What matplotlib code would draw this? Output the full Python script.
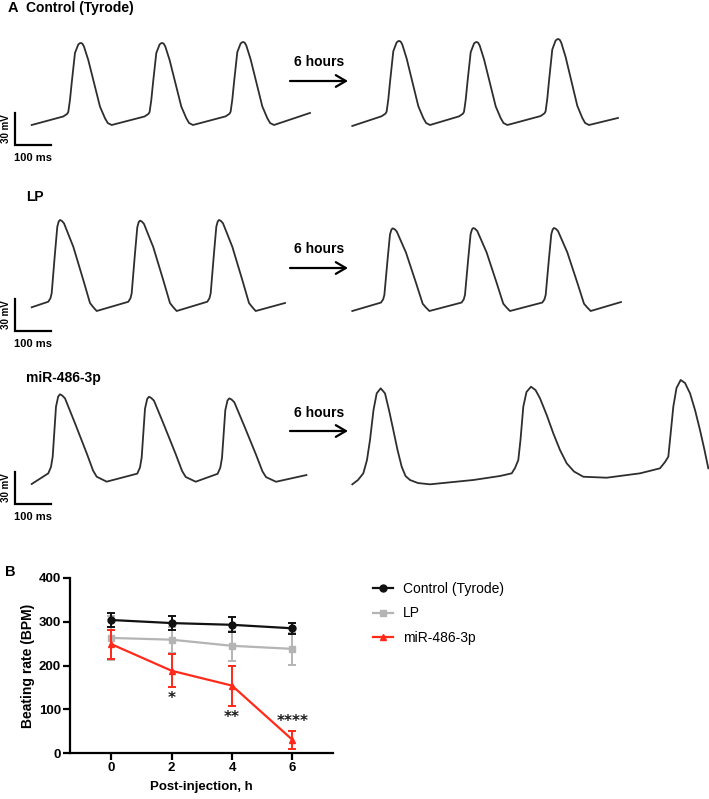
import numpy as np
import matplotlib
matplotlib.use("Agg")
import matplotlib.pyplot as plt

plt.rcParams['font.family'] = ['Liberation Sans', 'DejaVu Sans']

W, H = 709, 799
PX_PER_MS = 0.36      # 100 ms scale bar is 36 px wide
MV_PER_PX = 0.9375    # 30 mV scale bar is 32 px tall

# ---------------- panel A data: ms, mV above diastolic trough ----------------
# beat shapes, time relative to the peak
ctrl_tpl_t = [-49.2, -38.5, -35.3, -30.6, -25.8, -16.7, -7.5, -3.5, 0, 4, 8.3, 20.3, 38.9, 52.8,
              66.7, 74.5, 85.3]
ctrl_tpl_v = [8.0, 10.4, 12.2, 23.4, 39.4, 67.5, 75.5, 76.6, 76.9, 76.2, 73.6, 60.9, 35.9, 17.2,
              6.3, 1.8, 0.0]

lp_tpl_t = [-32.5, -26.5, -23.1, -13.9, -7.5, -3.5, 0, 5, 11.1, 36.9, 64.7, 83.3, 92.6, 101.9]
lp_tpl_v = [8.7, 12.0, 16.6, 54.4, 79.0, 84.0, 85.3, 84.5, 82.2, 60.3, 29.1, 7.5, 3.5, 0.0]

mir_tpl_t = [-32.5, -25.0, -20.3, -11.1, -5, 0, 6, 13.9, 41.7, 74.2, 92.0, 102, 129.7]
mir_tpl_v = [10.0, 16.0, 25.6, 72.5, 82.0, 84.1, 83.0, 80.3, 56.9, 28.8, 12.5, 6.8, 2.2]

# per trace: peak times (ms from trace start), peak heights, start and end points
ctrl0_peak_t = [136.9, 362.8, 587.8]
ctrl0_peak_v = [76.9, 76.9, 77.8]
ctrl0_start, ctrl0_end = (0, 0.0), (773, 11.3)

ctrl6_peak_t = [130.6, 345.6, 572.2]
ctrl6_peak_v = [78.8, 77.8, 80.6]
ctrl6_start, ctrl6_end = (0, -0.9), (738, 6.6)

lp0_peak_t = [78.6, 300.8, 520.3]
lp0_peak_v = [85.3, 84.7, 85.3]
lp0_start, lp0_end = (0, 3.5), (703.6, 7.5)

lp6_peak_t = [112.2, 336.1, 560.3]
lp6_peak_v = [77.5, 77.8, 77.8]
lp6_start, lp6_end = (0, 0.0), (746.4, 8.4)

mir0_peak_t = [78.6, 325.8, 548.9]
mir0_peak_v = [84.1, 81.8, 80.3]
mir0_start, mir0_end = (0, 0.0), (763, 8.4)

# miR-486-3p after 6 h: irregular, traced point by point
mir6_t = [0, 15.8, 30.6, 40.8, 49.2, 58.9, 67.8, 78.9, 90.8, 101.9, 113.9, 125.6, 137.2,
          147.8, 160.3, 182.5, 215.8, 336.1, 410.3, 442.8, 452, 461.1, 467.2, 475, 483.9,
          496.4, 508.9, 521.4, 540, 558.3, 576.9, 595.5, 615.8, 641.7, 706.7, 799.2, 854.7,
          868.6, 877.8, 883.9, 891.7, 900.6, 912.2, 924.2, 938.1, 952, 965.8, 978.3, 988.9]
mir6_v = [-0.3, 3.75, 10.0, 22.5, 41.3, 69.4, 85.0, 89.7, 85.0, 69.4, 50.6, 31.9, 16.2,
          7.5, 3.75, 0.9, -0.3, 3.75, 7.5, 10.0, 15.0, 22.5, 41.3, 72.5, 86.3,
          91.2, 88.1, 80.3, 64.7, 47.5, 31.9, 19.4, 11.7, 6.8, 5.9, 10.0, 14.7,
          20.6, 25.6, 45.9, 72.5, 90.0, 97.5, 94.7, 85.0, 69.4, 50.6, 31.9, 14.7]

row_titles = ['Control (Tyrode)', 'LP', 'miR-486-3p']

# ---------------- panel B data ----------------
hours = [0, 2, 4, 6]
ctrl_mean = [304, 297, 293, 285]
ctrl_err = [16, 16, 17, 13]
lp_mean = [263, 259, 245, 238]
lp_err = [50, 30, 35, 36]
mir_mean = [249, 188, 154, 30]
mir_err = [33, 38, 46, 21]
stars = ['*', '**', '****']
star_x = [2, 4, 6]
star_y = [130, 87, 78]


def build_trace(tpl_t, tpl_v, peak_t, peak_v, start, end):
    tpl_t = np.asarray(tpl_t)
    tpl_v = np.asarray(tpl_v)
    t = [np.array([start[0]])]
    v = [np.array([start[1]])]
    for pt, pv in zip(peak_t, peak_v):
        t.append(pt + tpl_t)
        v.append(tpl_v * pv / tpl_v.max())
    t.append(np.array([end[0]]))
    v.append(np.array([end[1]]))
    return np.concatenate(t), np.concatenate(v)


def fx(px):
    return px / W


def fy(py):
    return 1 - py / H


fig = plt.figure(figsize=(W / 100, H / 100), dpi=100)

# each row: pixel band, diastolic baseline, left and right traces
rows = [
    dict(top=0, bottom=170, base=125,
         left=build_trace(ctrl_tpl_t, ctrl_tpl_v, ctrl0_peak_t, ctrl0_peak_v, ctrl0_start, ctrl0_end),
         right=build_trace(ctrl_tpl_t, ctrl_tpl_v, ctrl6_peak_t, ctrl6_peak_v, ctrl6_start, ctrl6_end),
         title_y=8, arrow_y=81, text_y=62),
    dict(top=170, bottom=340, base=311,
         left=build_trace(lp_tpl_t, lp_tpl_v, lp0_peak_t, lp0_peak_v, lp0_start, lp0_end),
         right=build_trace(lp_tpl_t, lp_tpl_v, lp6_peak_t, lp6_peak_v, lp6_start, lp6_end),
         title_y=197, arrow_y=268, text_y=249),
    dict(top=340, bottom=520, base=484,
         left=build_trace(mir_tpl_t, mir_tpl_v, mir0_peak_t, mir0_peak_v, mir0_start, mir0_end),
         right=(np.array(mir6_t), np.array(mir6_v)),
         title_y=378, arrow_y=431, text_y=413),
]

left_off = 31.7 / PX_PER_MS
right_off = 352.3 / PX_PER_MS
bar_x = 15 / PX_PER_MS

for i, r in enumerate(rows):
    ax = fig.add_axes([0, fy(r['bottom']), 1, (r['bottom'] - r['top']) / H])
    ax.set_xlim(0, W / PX_PER_MS)
    ax.set_ylim((r['base'] - r['bottom']) * MV_PER_PX, (r['base'] - r['top']) * MV_PER_PX)
    ax.axis('off')

    t, v = r['left']
    ax.plot(t + left_off, v, color='#2e2e2e', lw=1.3, solid_joinstyle='round')
    t, v = r['right']
    ax.plot(t + right_off, v, color='#2e2e2e', lw=1.3, solid_joinstyle='round')

    # scale bar 100 ms x 30 mV
    ax.plot([bar_x, bar_x, bar_x + 100], [11.25, -18.75, -18.75], color='black', lw=1.6,
            solid_joinstyle='miter')
    ax.text(bar_x - 25, -3.75, '30 mV', rotation=90, ha='center', va='center',
            fontsize=7, fontweight='bold')
    ax.text(bar_x - 3, -31, '100 ms', ha='left', va='center', fontsize=8, fontweight='bold')

    fig.text(fx(26), fy(r['title_y']), row_titles[i], ha='left', va='center',
             fontsize=10, fontweight='bold')
    fig.text(fx(319), fy(r['text_y']), '6 hours', ha='center', va='center',
             fontsize=10, fontweight='bold')
    ax.annotate('', xy=(348, H - r['arrow_y']), xytext=(290, H - r['arrow_y']),
                xycoords='figure pixels', textcoords='figure pixels',
                arrowprops=dict(arrowstyle='->,head_length=0.6,head_width=0.35',
                                lw=1.6, color='black', mutation_scale=12,
                                shrinkA=0, shrinkB=0))

fig.text(fx(8), fy(8), 'A', ha='left', va='center', fontsize=10.5, fontweight='bold')
fig.text(fx(5), fy(572), 'B', ha='left', va='center', fontsize=10.5, fontweight='bold')

# ---------------- panel B ----------------
axb = fig.add_axes([fx(70), fy(753), (333 - 70) / W, (753 - 578) / H])
c_black, c_grey, c_red = '#111111', '#b4b4b4', '#ff2a1a'

lp = axb.errorbar(hours, lp_mean, yerr=lp_err, color=c_grey, marker='s', ms=5, lw=1.6,
                  elinewidth=1.4, capsize=3, capthick=1.4, zorder=2)
mir = axb.errorbar(hours, mir_mean, yerr=mir_err, color=c_red, marker='^', ms=5, lw=1.6,
                   elinewidth=1.4, capsize=3, capthick=1.4, zorder=3)
ctrl = axb.errorbar(hours, ctrl_mean, yerr=ctrl_err, color=c_black, marker='o', ms=5, lw=1.6,
                    elinewidth=1.4, capsize=3, capthick=1.4, zorder=4)

for s, x, y in zip(stars, star_x, star_y):
    axb.text(x, y - 6, s, ha='center', va='center', fontsize=11, fontweight='bold',
             color='#1a1a1a', family='DejaVu Sans')

axb.set_xlim(-1.36, 7.34)
axb.set_ylim(0, 400)
axb.set_xticks(hours)
axb.set_yticks([0, 100, 200, 300, 400])
for side in ['top', 'right']:
    axb.spines[side].set_visible(False)
for side in ['left', 'bottom']:
    axb.spines[side].set_linewidth(1.6)
axb.tick_params(width=1.6, length=5, labelsize=9.5, pad=1.5)
for lab in axb.get_xticklabels() + axb.get_yticklabels():
    lab.set_fontweight('bold')
axb.set_ylabel('Beating rate (BPM)', fontsize=10, fontweight='bold', labelpad=3)
axb.set_xlabel('Post-injection, h', fontsize=9.5, fontweight='bold', labelpad=5)

fig.legend([ctrl.lines[0], lp.lines[0], mir.lines[0]],
           ['Control (Tyrode)', 'LP', 'miR-486-3p'],
           loc='upper left', bbox_to_anchor=(fx(373), fy(582)), frameon=False,
           fontsize=10, handlelength=1.45, handletextpad=0.7, labelspacing=0.75,
           borderpad=0, borderaxespad=0)

fig.savefig('out.png', dpi=100)
